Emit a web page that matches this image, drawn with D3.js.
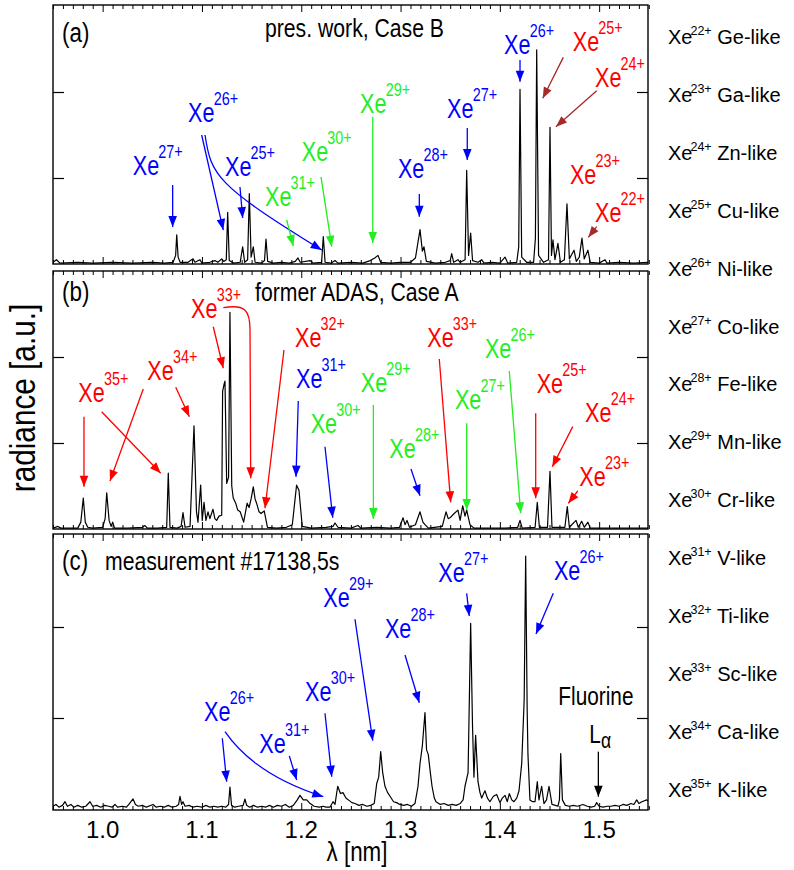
<!DOCTYPE html>
<html><head><meta charset="utf-8">
<script src="https://cdn.jsdelivr.net/npm/d3@7"></script>
<style>body{margin:0;background:#fff}</style>
</head><body><svg id="chart" width="794" height="870"></svg>
<script>
// ---------------- data ----------------
const lambdaDomain = [0.95, 1.55];
const radianceDomain = [0, 3];
const xTickLabels = [1.0, 1.1, 1.2, 1.3, 1.4, 1.5];
const yTicks = [1, 2];

const panelLabels = ["(a)", "(b)", "(c)"];
const panelTitles = ["pres. work, Case B", "former ADAS, Case A", "measurement #17138,5s"];

const legendCharges = ["22+","23+","24+","25+","26+","27+","28+","29+","30+","31+","32+","33+","34+","35+"];
const legendLike = ["Ge-like","Ga-like","Zn-like","Cu-like","Ni-like","Co-like","Fe-like","Mn-like","Cr-like","V-like","Ti-like","Sc-like","Ca-like","K-like"];

// spectra [lambda nm, radiance a.u.]
const spectrumA = [[0.950,0.02],[0.9535,0.05],[0.957,0.01],[0.975,0.02],[0.990,0.01],[1.010,0.02],[1.030,0.01],[1.050,0.02],[1.062,0.01],[1.071,0.02],[1.0735,0.10],[1.0746,0.34],[1.0760,0.08],[1.078,0.02],[1.086,0.02],[1.091,0.06],[1.093,0.02],[1.098,0.05],[1.100,0.01],[1.108,0.02],[1.113,0.04],[1.116,0.02],[1.1199,0.06],[1.122,0.03],[1.1245,0.05],[1.1259,0.60],[1.1275,0.04],[1.132,0.01],[1.1385,0.02],[1.1410,0.20],[1.1430,0.02],[1.1460,0.05],[1.1477,0.82],[1.1495,0.08],[1.1517,0.20],[1.1535,0.02],[1.160,0.01],[1.1630,0.04],[1.1645,0.29],[1.1662,0.03],[1.172,0.01],[1.180,0.02],[1.188,0.01],[1.194,0.03],[1.1967,0.07],[1.199,0.02],[1.2088,0.04],[1.212,0.01],[1.2205,0.02],[1.2222,0.32],[1.2240,0.02],[1.2300,0.01],[1.2340,0.04],[1.2370,0.01],[1.250,0.02],[1.262,0.01],[1.2695,0.04],[1.2740,0.07],[1.2773,0.10],[1.2800,0.02],[1.290,0.01],[1.300,0.02],[1.310,0.02],[1.3150,0.07],[1.3196,0.40],[1.3220,0.15],[1.3236,0.20],[1.3260,0.03],[1.335,0.01],[1.345,0.02],[1.3500,0.04],[1.3515,0.12],[1.3535,0.02],[1.3578,0.05],[1.3600,0.02],[1.3650,0.05],[1.3666,1.09],[1.3685,0.10],[1.3706,0.36],[1.3725,0.04],[1.3780,0.02],[1.3817,0.05],[1.3840,0.01],[1.392,0.02],[1.400,0.01],[1.4052,0.08],[1.4080,0.01],[1.4170,0.02],[1.4190,0.20],[1.4203,2.03],[1.4220,0.08],[1.4270,0.02],[1.4340,0.02],[1.4358,0.30],[1.4371,2.49],[1.4390,0.10],[1.4440,0.02],[1.4490,0.05],[1.4505,1.59],[1.4520,0.10],[1.4535,0.28],[1.4555,0.05],[1.4585,0.24],[1.4610,0.02],[1.4650,0.05],[1.4676,0.70],[1.4700,0.06],[1.4747,0.16],[1.4770,0.03],[1.4800,0.08],[1.4827,0.30],[1.4850,0.06],[1.4887,0.16],[1.4910,0.02],[1.500,0.01],[1.5059,0.05],[1.5080,0.01],[1.520,0.02],[1.535,0.01],[1.550,0.02]];

const spectrumB = [[0.950,0.01],[0.955,0.03],[0.958,0.01],[0.975,0.01],[0.978,0.08],[0.9805,0.36],[0.9825,0.08],[0.985,0.02],[0.990,0.01],[1.000,0.02],[1.0025,0.12],[1.0041,0.42],[1.0065,0.10],[1.0085,0.03],[1.0101,0.08],[1.0120,0.01],[1.025,0.01],[1.040,0.02],[1.0426,0.04],[1.045,0.01],[1.055,0.01],[1.0645,0.02],[1.0661,0.65],[1.0678,0.02],[1.075,0.01],[1.079,0.03],[1.0809,0.19],[1.0830,0.02],[1.088,0.03],[1.0920,1.20],[1.0945,0.20],[1.0960,0.08],[1.0987,0.51],[1.1003,0.10],[1.1021,0.31],[1.1040,0.10],[1.1061,0.20],[1.1080,0.12],[1.1111,0.23],[1.1130,0.12],[1.1148,0.10],[1.1172,0.15],[1.1199,0.16],[1.1208,1.60],[1.1222,1.68],[1.1232,1.72],[1.1249,0.53],[1.1268,0.60],[1.1282,2.52],[1.1300,0.50],[1.1315,0.36],[1.1340,0.30],[1.1360,0.22],[1.1385,0.20],[1.1420,0.08],[1.1455,0.30],[1.1475,0.25],[1.1495,0.35],[1.1517,0.49],[1.1535,0.35],[1.1550,0.30],[1.1575,0.20],[1.1595,0.18],[1.1627,0.21],[1.1660,0.02],[1.175,0.01],[1.185,0.02],[1.1910,0.05],[1.1953,0.51],[1.1977,0.45],[1.2010,0.03],[1.210,0.01],[1.225,0.02],[1.2320,0.03],[1.2340,0.07],[1.2370,0.02],[1.250,0.01],[1.2571,0.04],[1.2600,0.01],[1.2760,0.02],[1.290,0.01],[1.2990,0.02],[1.3025,0.13],[1.3045,0.05],[1.3065,0.10],[1.3090,0.02],[1.3150,0.05],[1.3196,0.20],[1.3225,0.08],[1.3246,0.05],[1.3280,0.01],[1.3420,0.03],[1.3458,0.20],[1.3480,0.12],[1.3498,0.13],[1.3540,0.18],[1.3578,0.22],[1.3600,0.10],[1.3626,0.27],[1.3649,0.15],[1.3666,0.22],[1.3699,0.05],[1.3740,0.01],[1.390,0.01],[1.405,0.01],[1.4180,0.02],[1.4203,0.10],[1.4225,0.01],[1.4355,0.02],[1.4377,0.31],[1.4398,0.02],[1.4480,0.02],[1.4505,0.67],[1.4525,0.02],[1.4655,0.02],[1.4679,0.26],[1.4700,0.02],[1.4767,0.10],[1.4790,0.02],[1.4824,0.09],[1.4850,0.02],[1.4887,0.08],[1.4910,0.01],[1.510,0.01],[1.530,0.01],[1.550,0.01]];

const spectrumC = [[0.950,0.03],[0.953,0.05],[0.956,0.02],[0.9595,0.04],[0.9621,0.08],[0.9645,0.03],[0.968,0.05],[0.971,0.02],[0.975,0.04],[0.979,0.02],[0.983,0.03],[0.9873,0.08],[0.990,0.03],[0.994,0.04],[0.998,0.02],[1.002,0.04],[1.006,0.03],[1.0095,0.02],[1.0124,0.05],[1.015,0.02],[1.020,0.03],[1.024,0.02],[1.027,0.06],[1.0306,0.11],[1.0330,0.05],[1.036,0.03],[1.040,0.04],[1.044,0.02],[1.0507,0.05],[1.054,0.02],[1.058,0.03],[1.062,0.02],[1.066,0.04],[1.070,0.02],[1.074,0.03],[1.0765,0.05],[1.0779,0.14],[1.0795,0.05],[1.0809,0.08],[1.083,0.03],[1.087,0.04],[1.091,0.02],[1.095,0.03],[1.100,0.02],[1.104,0.04],[1.108,0.02],[1.112,0.03],[1.116,0.02],[1.120,0.03],[1.124,0.02],[1.1268,0.05],[1.1282,0.24],[1.1298,0.04],[1.133,0.02],[1.137,0.03],[1.1415,0.04],[1.1433,0.11],[1.1450,0.04],[1.148,0.02],[1.152,0.04],[1.156,0.02],[1.160,0.03],[1.164,0.02],[1.168,0.04],[1.172,0.02],[1.176,0.04],[1.180,0.03],[1.184,0.05],[1.188,0.02],[1.192,0.04],[1.196,0.10],[1.1987,0.15],[1.2020,0.10],[1.2055,0.10],[1.209,0.06],[1.213,0.03],[1.218,0.02],[1.222,0.03],[1.2250,0.02],[1.2289,0.02],[1.2320,0.08],[1.2340,0.05],[1.2367,0.25],[1.2395,0.17],[1.2420,0.18],[1.2450,0.12],[1.2475,0.10],[1.2510,0.07],[1.2541,0.06],[1.258,0.04],[1.262,0.05],[1.266,0.03],[1.270,0.04],[1.2735,0.06],[1.2760,0.28],[1.2780,0.35],[1.2800,0.63],[1.2820,0.40],[1.2843,0.25],[1.2870,0.18],[1.2894,0.14],[1.2930,0.08],[1.2960,0.07],[1.2994,0.05],[1.303,0.04],[1.307,0.05],[1.311,0.03],[1.3145,0.06],[1.3176,0.25],[1.3196,0.50],[1.3220,0.70],[1.3246,1.06],[1.3262,0.65],[1.3279,0.60],[1.3300,0.40],[1.3317,0.25],[1.3340,0.12],[1.3357,0.08],[1.340,0.05],[1.344,0.06],[1.348,0.04],[1.352,0.05],[1.356,0.04],[1.360,0.06],[1.3630,0.10],[1.3649,0.25],[1.3680,0.40],[1.3706,2.04],[1.3725,0.90],[1.3739,0.35],[1.3756,0.81],[1.3780,0.30],[1.3800,0.18],[1.3817,0.12],[1.3850,0.20],[1.3875,0.12],[1.3900,0.08],[1.3935,0.14],[1.3968,0.16],[1.4001,0.07],[1.4025,0.12],[1.4052,0.15],[1.4075,0.08],[1.4095,0.17],[1.4120,0.10],[1.4142,0.08],[1.4170,0.12],[1.4193,0.20],[1.4220,0.50],[1.4245,1.20],[1.4260,2.78],[1.4275,1.10],[1.4283,0.60],[1.4303,0.10],[1.4330,0.08],[1.4354,0.08],[1.4377,0.30],[1.4394,0.10],[1.4421,0.25],[1.4444,0.06],[1.4470,0.10],[1.4495,0.25],[1.4525,0.05],[1.4560,0.04],[1.4585,0.03],[1.4600,0.10],[1.4613,0.61],[1.4630,0.10],[1.4660,0.04],[1.470,0.03],[1.474,0.04],[1.478,0.03],[1.4837,0.05],[1.488,0.03],[1.492,0.02],[1.4955,0.03],[1.4975,0.07],[1.5000,0.03],[1.504,0.02],[1.508,0.03],[1.512,0.03],[1.516,0.04],[1.520,0.03],[1.524,0.05],[1.528,0.04],[1.532,0.06],[1.5350,0.05],[1.5378,0.10],[1.540,0.06],[1.543,0.08],[1.5479,0.10],[1.550,0.08]];

// ion annotations: label anchor and arrow paths in [lambda, radiance]
const BLUE = "#0000ff", RED = "#ff0000", GREEN = "#22ee22", BROWN = "#a52a2a", BLACK = "#000000";

const annotationsA = [
 {ion:"27+", c:BLUE, at:[1.0303,1.035], arrows:[[[1.0705,0.919],[1.0705,0.430]]]},
 {ion:"26+", c:BLUE, at:[1.0860,1.655], arrows:[[[1.0997,1.500],[1.1215,0.395]], [[1.1031,1.500],[1.1091,1.035],[1.1141,0.919],[1.2206,0.163]]]},
 {ion:"25+", c:BLUE, at:[1.1232,1.023], arrows:[[[1.1383,0.895],[1.1410,0.535]]]},
 {ion:"31+", c:GREEN, at:[1.1635,0.674], arrows:[[[1.1853,0.512],[1.1920,0.209]]]},
 {ion:"30+", c:GREEN, at:[1.2005,1.198], arrows:[[[1.2199,1.012],[1.2307,0.201]]]},
 {ion:"29+", c:GREEN, at:[1.2592,1.759], arrows:[[[1.2720,1.713],[1.2720,0.244]]]},
 {ion:"28+", c:BLUE, at:[1.2974,1.000], arrows:[[[1.3189,0.814],[1.3189,0.550]]]},
 {ion:"27+", c:BLUE, at:[1.3468,1.698], arrows:[[[1.3672,1.581],[1.3672,1.209]]]},
 {ion:"26+", c:BLUE, at:[1.4042,2.442], arrows:[[[1.4203,2.372],[1.4203,2.120]]]},
 {ion:"25+", c:RED, ac:BROWN, at:[1.4734,2.480], arrows:[[[1.4639,2.403],[1.4432,1.927]]]},
 {ion:"24+", c:RED, ac:BROWN, at:[1.4958,2.055], arrows:[[[1.4975,2.015],[1.4565,1.597]]]},
 {ion:"23+", c:RED, at:[1.4706,0.930], arrows:[]},
 {ion:"22+", c:RED, ac:BROWN, at:[1.4958,0.492], arrows:[[[1.4975,0.434],[1.4891,0.310]]]}
];
const annotationsB = [
 {ion:"35+", c:RED, at:[0.9755,1.473], arrows:[[[0.9812,1.306],[0.9812,0.492]], [[0.9990,1.364],[1.0585,0.648]]]},
 {ion:"34+", c:RED, at:[1.0450,1.733], arrows:[[[1.0409,1.628],[1.0074,0.558]], [[1.0736,1.648],[1.0873,1.306]]]},
 {ion:"33+", c:RED, at:[1.0890,2.457], arrows:[[[1.1114,2.352],[1.1215,1.869]], [[1.1215,2.573],[1.1433,2.616],[1.1484,2.547],[1.1484,2.314],[1.1491,0.590]]]},
 {ion:"32+", c:RED, at:[1.1937,2.120], arrows:[[[1.1826,2.081],[1.1635,0.241]]]},
 {ion:"31+", c:BLUE, at:[1.1947,1.636], arrows:[[[1.1970,1.488],[1.1947,0.608]]]},
 {ion:"30+", c:GREEN, ac:BLUE, at:[1.2095,1.113], arrows:[[[1.2239,0.957],[1.2317,0.131]]]},
 {ion:"29+", c:GREEN, at:[1.2599,1.597], arrows:[[[1.2726,1.442],[1.2726,0.116]]]},
 {ion:"28+", c:GREEN, ac:BLUE, at:[1.2887,0.822], arrows:[[[1.3105,0.698],[1.3196,0.387]]]},
 {ion:"33+", c:RED, at:[1.3269,2.120], arrows:[[[1.3390,1.977],[1.3505,0.310]]]},
 {ion:"27+", c:GREEN, at:[1.3548,1.395], arrows:[[[1.3666,1.229],[1.3666,0.221]]]},
 {ion:"26+", c:GREEN, at:[1.3850,1.992], arrows:[[[1.4095,1.837],[1.4210,0.183]]]},
 {ion:"25+", c:RED, at:[1.4371,1.578], arrows:[[[1.4361,1.345],[1.4361,0.357]]]},
 {ion:"24+", c:RED, at:[1.4858,1.241], arrows:[[[1.4734,1.190],[1.4528,0.724]]]},
 {ion:"23+", c:RED, at:[1.4800,0.503], arrows:[[[1.4784,0.442],[1.4689,0.299]]]}
];
const annotationsC = [
 {ion:"26+", c:BLUE, at:[1.1021,0.970], arrows:[[[1.1205,0.777],[1.1249,0.300]], [[1.1232,0.849],[1.1433,0.532],[1.1764,0.295],[1.2222,0.135]]]},
 {ion:"31+", c:BLUE, at:[1.1578,0.619], arrows:[[[1.1880,0.582],[1.1954,0.319]]]},
 {ion:"30+", c:BLUE, at:[1.2038,1.190], arrows:[[[1.2239,1.052],[1.2307,0.355]]]},
 {ion:"29+", c:BLUE, at:[1.2222,2.216], arrows:[[[1.2541,2.085],[1.2720,0.751]]]},
 {ion:"28+", c:BLUE, at:[1.2843,1.876], arrows:[[[1.3045,1.692],[1.3189,1.168]]]},
 {ion:"27+", c:BLUE, at:[1.3380,2.498], arrows:[[[1.3666,2.370],[1.3692,2.121]]]},
 {ion:"26+", c:BLUE, at:[1.4545,2.516], arrows:[[[1.4538,2.370],[1.4364,1.923]]]}
];
const fluorineNote = {text:"Fluorine", at:[1.4589,1.143], sub:[1.4901,0.722], arrow:[[1.4992,0.630],[1.4992,0.135]]};

// ---------------- drawing ----------------
const REG = "'Liberation Sans', Arial, Helvetica, sans-serif";
const SQUEEZE = 0.8;
const svg = d3.select("#chart");

// condensed text helper (horizontal squeeze of Liberation Sans)
function ntext(sel, px, py, size, rotate, sq) {
  return sel.append("text")
    .attr("transform", `translate(${px},${py})${rotate ? " rotate(" + rotate + ")" : ""} scale(${sq || SQUEEZE},1)`)
    .attr("font-family", REG).attr("font-size", size);
}

const x = d3.scaleLinear().domain(lambdaDomain).range([53, 648.8]);

const layout = [
  {data: spectrumA, ann: annotationsA, top: 5, bottom: 264, yRange: [264, 6], labelY: 42, titleX: 265, titleY: 37},
  {data: spectrumB, ann: annotationsB, top: 271, bottom: 529, yRange: [529, 271], labelY: 301, titleX: 255, titleY: 301},
  {data: spectrumC, ann: annotationsC, top: 534, bottom: 810, yRange: [809, 536], labelY: 570, titleX: 105, titleY: 570}
];

const defs = svg.append("defs");
[BLUE, RED, GREEN, BROWN, BLACK].forEach(col => {
  defs.append("marker")
    .attr("id", "arr" + col.slice(1))
    .attr("viewBox", "-12 -6 12 12")
    .attr("refX", 0).attr("refY", 0)
    .attr("markerWidth", 12).attr("markerHeight", 12)
    .attr("markerUnits", "userSpaceOnUse")
    .attr("orient", "auto")
    .append("path").attr("d", "M-11,-4.3 L0,0 L-11,4.3 Z").attr("fill", col);
});

const minorTicks = d3.range(95, 156).filter(i => i % 10 !== 0).map(i => i / 100);

layout.forEach((p, i) => {
  const y = d3.scaleLinear().domain(radianceDomain).range(p.yRange);
  const g = svg.append("g");
  const clipId = "clip" + i;
  defs.append("clipPath").attr("id", clipId).append("rect")
    .attr("x", 53).attr("y", p.top).attr("width", 595).attr("height", p.bottom - p.top);

  const addX = (gen, yPos) => {
    const a = g.append("g").attr("transform", `translate(0,${yPos})`).call(gen);
    a.select(".domain").remove();
    a.selectAll("line").attr("stroke", "#000").attr("stroke-width", 1);
    a.selectAll("text").remove();
  };
  addX(d3.axisTop(x).tickValues(minorTicks).tickSize(-4), p.top);
  addX(d3.axisTop(x).tickValues(xTickLabels).tickSize(-7), p.top);
  addX(d3.axisBottom(x).tickValues(minorTicks).tickSize(-4), p.bottom);
  addX(d3.axisBottom(x).tickValues(xTickLabels).tickSize(-7), p.bottom);
  const addY = (gen, xPos) => {
    const a = g.append("g").attr("transform", `translate(${xPos},0)`).call(gen);
    a.select(".domain").remove();
    a.selectAll("line").attr("stroke", "#000").attr("stroke-width", 1.2);
    a.selectAll("text").remove();
  };
  addY(d3.axisLeft(y).tickValues(yTicks).tickSize(-11), 53);
  addY(d3.axisRight(y).tickValues(yTicks).tickSize(-11), 648);

  g.append("path").datum(p.data)
    .attr("clip-path", `url(#${clipId})`)
    .attr("fill", "none").attr("stroke", "#000").attr("stroke-width", 1.2)
    .attr("stroke-linejoin", "round")
    .attr("d", d3.line().x(d => x(d[0])).y(d => y(d[1])));

  g.append("rect").attr("x", 53).attr("y", p.top).attr("width", 595).attr("height", p.bottom - p.top)
    .attr("fill", "none").attr("stroke", "#000").attr("stroke-width", 1.4);

  ntext(g, 62, p.labelY, 28).text(panelLabels[i]);
  ntext(g, p.titleX, p.titleY, 26.5).text(panelTitles[i]);

  p.ann.forEach(a => {
    const t = ntext(g, x(a.at[0]), y(a.at[1]), 27).attr("fill", a.c);
    t.append("tspan").text("Xe");
    t.append("tspan").attr("font-size", 18).attr("dy", -17).attr("dx", -1).text(a.ion);
    const ac = a.ac || a.c;
    a.arrows.forEach(pts => {
      const P = pts.map(q => [x(q[0]), y(q[1])]);
      const path = d3.path();
      path.moveTo(P[0][0], P[0][1]);
      if (P.length === 2) path.lineTo(P[1][0], P[1][1]);
      else {
        path.bezierCurveTo(P[1][0], P[1][1], P[2][0], P[2][1], P[3][0], P[3][1]);
        if (P.length === 5) path.lineTo(P[4][0], P[4][1]);
      }
      g.append("path").attr("d", path.toString()).attr("fill", "none")
        .attr("stroke", ac).attr("stroke-width", 1.3)
        .attr("marker-end", `url(#arr${ac.slice(1)})`);
    });
  });

  if (i === 2) {
    const f = fluorineNote;
    ntext(g, x(f.at[0]), y(f.at[1]), 26).text(f.text);
    const lt = ntext(g, x(f.sub[0]), y(f.sub[1]), 26);
    lt.append("tspan").text("L");
    lt.append("tspan").attr("font-size", 22).attr("dy", 5).text("α");
    g.append("path")
      .attr("d", d3.line()(f.arrow.map(q => [x(q[0]), y(q[1])])))
      .attr("stroke", BLACK).attr("stroke-width", 1.3).attr("fill", "none")
      .attr("marker-end", `url(#arr000000)`);

    g.selectAll(".xl").data(xTickLabels).enter().append("text")
      .attr("x", d => x(d)).attr("y", 838).attr("text-anchor", "middle")
      .attr("font-family", REG).attr("font-size", 24).text(d => d.toFixed(1));
  }
});

ntext(svg, 35, 398, 35, -90, 0.85).attr("text-anchor", "middle").text("radiance [a.u.]");
ntext(svg, 357, 861, 28).attr("text-anchor", "middle").text("λ [nm]");

const lg = svg.append("g");
legendCharges.forEach((ch, i) => {
  const t = lg.append("text").attr("x", 668).attr("y", 44 + i * 57.9).attr("font-family", REG).attr("fill", "#000");
  t.append("tspan").attr("font-size", 20).text("Xe");
  t.append("tspan").attr("font-size", 12.5).attr("dy", -9).attr("dx", -2).text(ch);
  t.append("tspan").attr("font-size", 20).attr("dy", 9).text(" " + legendLike[i]);
});
</script>
</body></html>
